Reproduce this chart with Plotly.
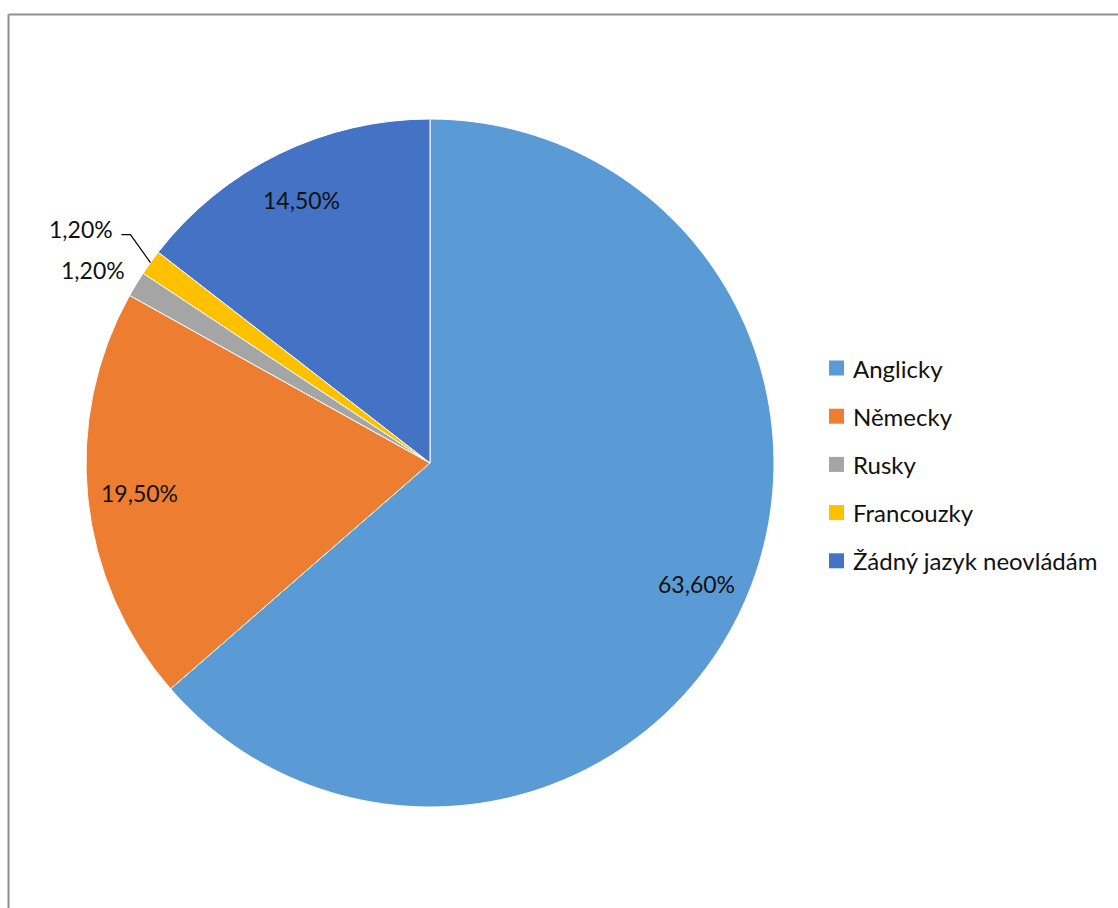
import math
import plotly.graph_objects as go

W, H = 1118, 908

categories = ["Anglicky", "Německy", "Rusky", "Francouzky", "Žádný jazyk neovládám"]
values = [63.6, 19.5, 1.2, 1.2, 14.5]
value_labels = ["63,60%", "19,50%", "1,20%", "1,20%", "14,50%"]
colors = ["#5B9BD5", "#ED7D31", "#A5A5A5", "#FFC000", "#4472C4"]

# geometry (pixels)
cx, cy, R = 430, 463, 344
FONT = "Lato"
TXT = "#111111"


def px(x):
    return x / W


def py(y):
    return 1 - y / H


fig = go.Figure(
    go.Pie(
        labels=categories,
        values=values,
        sort=False,
        direction="clockwise",
        rotation=0,
        marker=dict(colors=colors, line=dict(color="white", width=1)),
        textinfo="none",
        hoverinfo="label+percent",
        domain=dict(x=[px(cx - R), px(cx + R)], y=[py(cy + R), py(cy - R)]),
        showlegend=False,
    )
)

annotations = []
shapes = []

total = sum(values)
cum = 0.0
for i, (v, lab) in enumerate(zip(values, value_labels)):
    mid = (cum + v / 2) / total
    cum += v
    th = 2 * math.pi * mid
    s, c = math.sin(th), -math.cos(th)
    if v > 5:
        r = 0.85 * R
        annotations.append(dict(
            x=px(cx + r * s), y=py(cy + r * c), xref="paper", yref="paper",
            text=lab, showarrow=False, xanchor="center", yanchor="middle",
            font=dict(family=FONT, size=23, color=TXT)))
    elif i == 2:
        r = R + 12
        annotations.append(dict(
            x=px(cx + r * s + 1), y=py(cy + r * c - 8), xref="paper", yref="paper",
            text=lab, showarrow=False, xanchor="right", yanchor="middle",
            font=dict(family=FONT, size=23, color=TXT)))
    else:
        ex, ey = cx + R * s, cy + R * c
        elx, ely = ex - 20, ey - 28
        hx = elx - 9
        shapes.append(dict(type="path", xref="paper", yref="paper",
                           path=f"M {px(ex)} {py(ey)} L {px(elx)} {py(ely)} L {px(hx)} {py(ely)}",
                           line=dict(color="#000000", width=1.2)))
        annotations.append(dict(
            x=px(hx - 6), y=py(ely - 6), xref="paper", yref="paper",
            text=lab, showarrow=False, xanchor="right", yanchor="middle",
            font=dict(family=FONT, size=23, color=TXT)))

# manual legend
leg_x, leg_y0, leg_dy, sq = 829, 368, 48.2, 15
for i, (name, col) in enumerate(zip(categories, colors)):
    yy = leg_y0 + leg_dy * i
    shapes.append(dict(type="rect", xref="paper", yref="paper",
                       x0=px(leg_x), x1=px(leg_x + sq), y0=py(yy + sq / 2), y1=py(yy - sq / 2),
                       fillcolor=col, line=dict(width=0)))
    annotations.append(dict(
        x=px(leg_x + sq + 7), y=py(yy), xref="paper", yref="paper",
        text=name, showarrow=False, xanchor="left", yanchor="middle",
        font=dict(family=FONT, size=24, color=TXT)))

# chart frame (top and left edges visible)
shapes.append(dict(type="line", xref="paper", yref="paper",
                   x0=px(8.5), x1=px(W + 5), y0=py(14.5), y1=py(14.5),
                   line=dict(color="#8f8f8f", width=2)))
shapes.append(dict(type="line", xref="paper", yref="paper",
                   x0=px(8.5), x1=px(8.5), y0=py(14.5), y1=py(H + 5),
                   line=dict(color="#8f8f8f", width=2)))

fig.update_layout(
    width=W, height=H,
    margin=dict(l=0, r=0, t=0, b=0),
    paper_bgcolor="white", plot_bgcolor="white",
    annotations=annotations, shapes=shapes,
    showlegend=False,
    font=dict(family=FONT),
)

fig.write_html("out.html")
